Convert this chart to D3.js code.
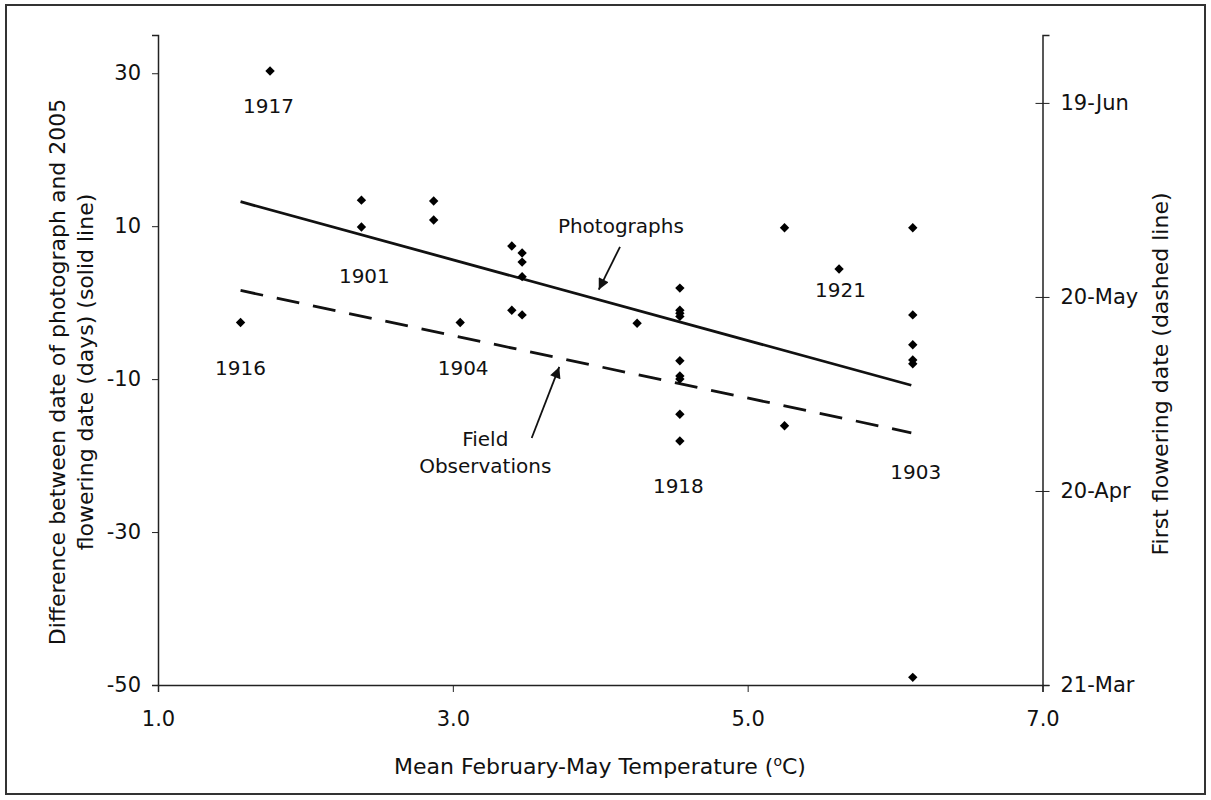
<!DOCTYPE html>
<html>
<head>
<meta charset="utf-8">
<script src="https://cdn.jsdelivr.net/npm/d3@7"></script>
<style>
  body { margin: 0; background: #fff; }
  svg text { font-family: "DejaVu Sans", Verdana, sans-serif; fill: #111; }
</style>
</head>
<body>
<svg width="1211" height="800"></svg>
<script>
// observations: mean Feb-May temperature vs. difference in days (photo date - 2005 flowering)
var temps = [1.76, 2.38, 2.38, 2.87, 2.87, 1.56, 3.05, 3.40, 3.47, 3.47, 3.47, 3.40, 3.47, 4.25,
             4.54, 4.54, 4.54, 4.54, 4.54, 4.54, 4.54, 4.54, 4.54, 5.25, 5.25, 5.62,
             6.12, 6.12, 6.12, 6.12, 6.12, 6.12];
var diffs = [30.3, 13.4, 9.9, 13.3, 10.8, -2.6, -2.6, 7.4, 6.5, 5.3, 3.4, -1.0, -1.6, -2.7,
             1.9, -1.0, -1.4, -1.8, -7.6, -9.6, -10.0, -14.6, -18.1, 9.8, -16.1, 4.4,
             9.8, -1.6, -5.5, -7.5, -8.0, -49.0];

// fitted lines
var solidTemps = [1.56, 6.11];
var solidDiffs = [13.2, -10.8];
var dashedTemps = [1.56, 6.11];
var dashedDates = ["21-May", "29-Apr"];

// year annotations (centre x, baseline y in data units)
var yearLabels = ["1917", "1901", "1916", "1904", "1921", "1918", "1903"];
var yearLabelX = [1.75, 2.40, 1.56, 3.07, 5.63, 4.53, 6.14];
var yearLabelY = [24.8, 2.6, -9.5, -9.5, 0.7, -24.9, -23.0];

// tick labels
var xTicks = [1.0, 3.0, 5.0, 7.0];
var yTicks = [30, 10, -10, -30, -50];
var dateTicks = ["21-Mar", "20-Apr", "20-May", "19-Jun"];

var svg = d3.select("svg");
var parseDay = d3.timeParse("%d-%b");
var fontSize = "20px";
var tickFont = "21px";
var titleFont = "22px";

var xScale = d3.scaleLinear().domain([1, 7]).range([158, 1042.5]);
var yScale = d3.scaleLinear().domain([-50, 35]).range([685, 35]);
var dateScale = d3.scaleTime()
    .domain([parseDay("21-Mar"), d3.timeHour.offset(parseDay("21-Mar"), 100.5 * 24)])
    .range([685, 35]);

// outer frame
svg.append("rect")
    .attr("x", 6).attr("y", 5)
    .attr("width", 1199).attr("height", 789)
    .attr("fill", "none")
    .attr("stroke", "#333")
    .attr("stroke-width", 2);

// left axis
var left = svg.append("g").attr("transform", "translate(" + xScale(1) + ",0)")
    .call(d3.axisLeft(yScale).tickValues(yTicks).tickSize(6).tickPadding(11)
        .tickFormat(function(d) { return String(d); }));
left.select(".domain").attr("stroke", "#222").attr("stroke-width", 1.5);
left.selectAll("text").style("font-size", tickFont);

// bottom axis
var bottom = svg.append("g").attr("transform", "translate(0," + yScale(-50) + ")")
    .call(d3.axisBottom(xScale).tickValues(xTicks).tickSize(7).tickPadding(19).tickFormat(d3.format(".1f")));
bottom.select(".domain").attr("stroke", "#222").attr("stroke-width", 1.5);
bottom.selectAll("text").style("font-size", tickFont);

// right axis (first flowering date)
var right = svg.append("g").attr("transform", "translate(" + xScale(7) + ",0)")
    .call(d3.axisRight(dateScale).tickValues(dateTicks.map(parseDay)).tickSize(7).tickPadding(11)
        .tickFormat(d3.timeFormat("%d-%b")));
right.select(".domain").attr("stroke", "#222").attr("stroke-width", 1.5);
right.selectAll(".tick line").attr("x1", -7);
right.selectAll("text").style("font-size", tickFont);
svg.selectAll(".tick line").attr("stroke", "#222");

// regression lines
var solidLine = d3.line().x(function(d) { return xScale(d[0]); }).y(function(d) { return yScale(d[1]); });
svg.append("path")
    .datum(d3.zip(solidTemps, solidDiffs))
    .attr("d", solidLine)
    .attr("fill", "none")
    .attr("stroke", "#111")
    .attr("stroke-width", 2.8);

var dashedLine = d3.line().x(function(d) { return xScale(d[0]); }).y(function(d) { return dateScale(parseDay(d[1])); });
svg.append("path")
    .datum(d3.zip(dashedTemps, dashedDates))
    .attr("d", dashedLine)
    .attr("fill", "none")
    .attr("stroke", "#111")
    .attr("stroke-width", 2.8)
    .attr("stroke-dasharray", "23,14");

// points
var diamond = d3.symbol().type(d3.symbolSquare).size(44);
svg.selectAll(".pt")
    .data(d3.zip(temps, diffs))
    .enter()
    .append("path")
    .attr("class", "pt")
    .attr("d", diamond)
    .attr("transform", function(d) { return "translate(" + xScale(d[0]) + "," + yScale(d[1]) + ") rotate(45)"; })
    .attr("fill", "#000");

// year labels
svg.selectAll(".yr")
    .data(yearLabels)
    .enter()
    .append("text")
    .attr("class", "yr")
    .attr("x", function(d, i) { return xScale(yearLabelX[i]); })
    .attr("y", function(d, i) { return yScale(yearLabelY[i]); })
    .attr("text-anchor", "middle")
    .style("font-size", fontSize)
    .text(function(d) { return d; });

// arrow annotations
svg.append("defs").append("marker")
    .attr("id", "head")
    .attr("viewBox", "0 0 10 10")
    .attr("refX", 10).attr("refY", 5)
    .attr("markerWidth", 13).attr("markerHeight", 11)
    .attr("markerUnits", "userSpaceOnUse")
    .attr("orient", "auto")
    .append("path").attr("d", "M0,0L10,5L0,10Z").attr("fill", "#111");

svg.append("text")
    .attr("x", xScale(4.14)).attr("y", yScale(9.1))
    .attr("text-anchor", "middle")
    .style("font-size", fontSize)
    .text("Photographs");
svg.append("line")
    .attr("x1", xScale(4.134)).attr("y1", yScale(7.3))
    .attr("x2", xScale(3.99)).attr("y2", yScale(1.7))
    .attr("stroke", "#111").attr("stroke-width", 1.8)
    .attr("marker-end", "url(#head)");

var field = svg.append("text")
    .attr("text-anchor", "middle")
    .style("font-size", fontSize);
field.append("tspan").attr("x", xScale(3.22)).attr("y", yScale(-18.8)).text("Field");
field.append("tspan").attr("x", xScale(3.22)).attr("y", yScale(-22.3)).text("Observations");
svg.append("line")
    .attr("x1", xScale(3.535)).attr("y1", yScale(-17.7))
    .attr("x2", xScale(3.722)).attr("y2", yScale(-8.4))
    .attr("stroke", "#111").attr("stroke-width", 1.8)
    .attr("marker-end", "url(#head)");

// axis titles
var yTitle = svg.append("text")
    .attr("transform", "translate(0,372) rotate(-90)")
    .attr("text-anchor", "middle")
    .style("font-size", titleFont);
yTitle.append("tspan").attr("x", 0).attr("y", 65).text("Difference between date of photograph and 2005");
yTitle.append("tspan").attr("x", 0).attr("y", 93).text("flowering date (days) (solid line)");

svg.append("text")
    .attr("transform", "translate(1168,374) rotate(-90)")
    .attr("text-anchor", "middle")
    .style("font-size", titleFont)
    .text("First flowering date (dashed line)");

var xTitle = svg.append("text")
    .attr("x", 600).attr("y", 774)
    .attr("text-anchor", "middle")
    .style("font-size", titleFont);
xTitle.append("tspan").text("Mean February-May Temperature (");
xTitle.append("tspan").attr("baseline-shift", "super").style("font-size", "14px").text("o");
xTitle.append("tspan").text("C)");
</script>
</body>
</html>
